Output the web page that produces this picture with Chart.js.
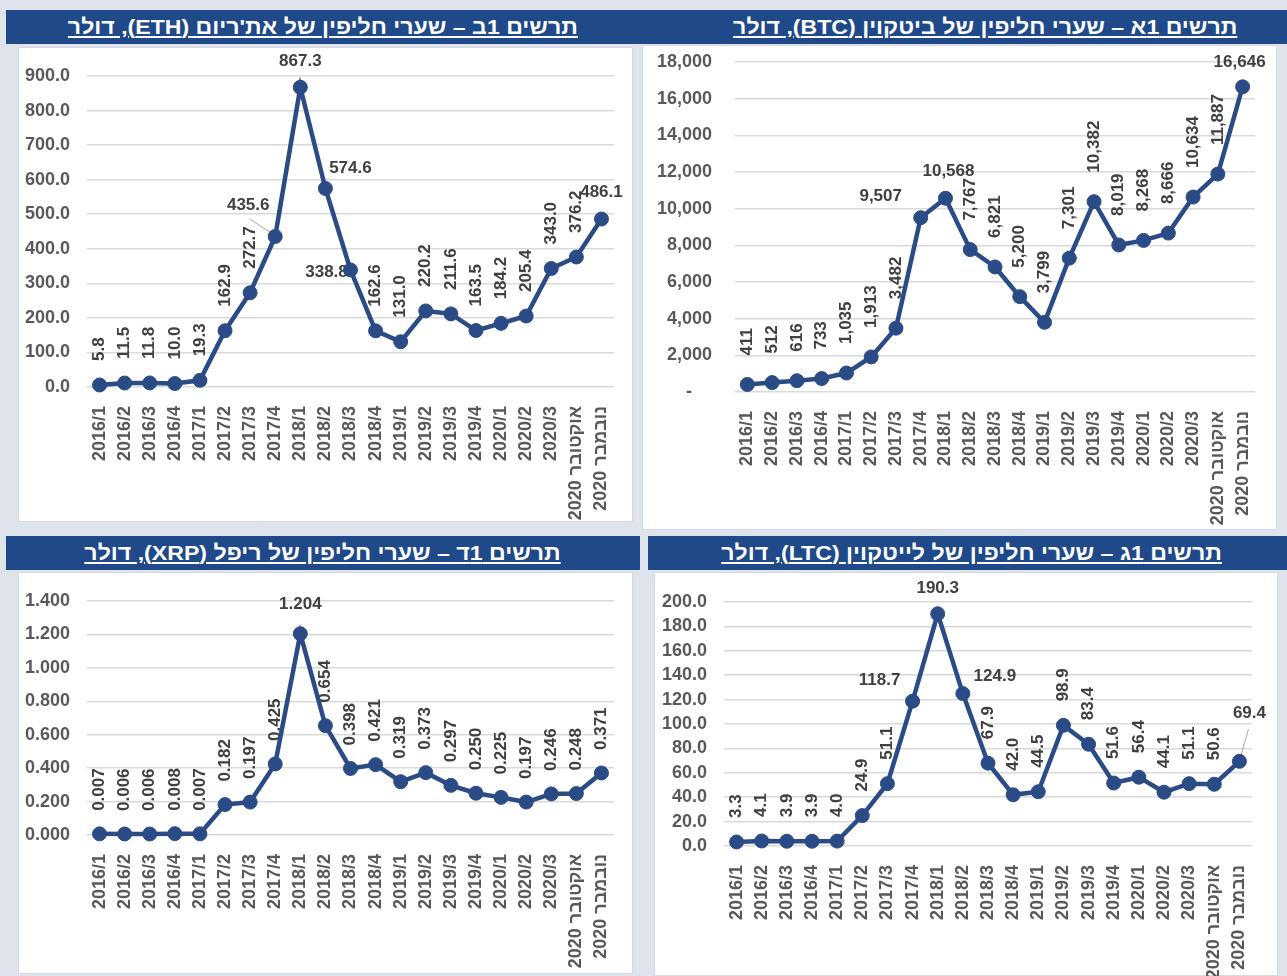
<!DOCTYPE html>
<html lang="he">
<head>
<meta charset="utf-8">
<script src="https://cdn.jsdelivr.net/npm/chart.js@4.4.0/dist/chart.umd.min.js"></script>
<style>
  body { margin: 0; width: 1287px; height: 976px; background: #dfe3ec; position: relative; overflow: hidden;
         font-family: "Liberation Sans", Arial, sans-serif; }
  .bar { position: absolute; height: 34px; background: #1f4989; color: #fff; font-weight: bold; font-size: 21px;
         line-height: 34px; text-align: center; direction: rtl; white-space: nowrap; box-sizing: border-box; }
  .bar span { text-decoration: underline; display: inline-block; transform: scaleX(1.1); }
  .panel { position: absolute; background: #fff; border: 1px solid #d6d9df; box-sizing: border-box; }
  canvas { position: absolute; }
</style>
</head>
<body>

<div class="bar" style="left:6px;top:10px;width:634px;"><span>תרשים 1ב – שערי חליפין של את'ריום (ETH), דולר</span></div>
<div class="bar" style="left:640px;top:10px;width:647px;padding-left:44px;"><span>תרשים 1א – שערי חליפין של ביטקוין (BTC), דולר</span></div>
<div class="bar" style="left:6px;top:536px;width:634px;"><span>תרשים 1ד – שערי חליפין של ריפל (XRP), דולר</span></div>
<div class="bar" style="left:648px;top:536px;width:639px;padding-left:8px;"><span>תרשים 1ג – שערי חליפין של לייטקוין (LTC), דולר</span></div>

<div class="panel" style="left:18px;top:47px;width:615px;height:475px;"></div>
<div class="panel" style="left:642px;top:45px;width:635px;height:485px;"></div>
<div class="panel" style="left:18px;top:572px;width:615px;height:402px;"></div>
<div class="panel" style="left:654px;top:572px;width:624px;height:404px;"></div>

<canvas id="eth" width="615" height="475" style="left:18px;top:47px;"></canvas>
<canvas id="btc" width="635" height="485" style="left:642px;top:45px;"></canvas>
<canvas id="xrp" width="615" height="402" style="left:18px;top:572px;"></canvas>
<canvas id="ltc" width="624" height="404" style="left:654px;top:572px;"></canvas>

<script>
// רבעונים + חודשים אחרונים
const categories = ['2016/1', '2016/2', '2016/3', '2016/4', '2017/1', '2017/2', '2017/3', '2017/4',
  '2018/1', '2018/2', '2018/3', '2018/4', '2019/1', '2019/2', '2019/3', '2019/4',
  '2020/1', '2020/2', '2020/3', 'אוקטובר 2020', 'נובמבר 2020'];

const btcValues = [411, 512, 616, 733, 1035, 1913, 3482, 9507, 10568, 7767, 6821, 5200, 3799,
  7301, 10382, 8019, 8268, 8666, 10634, 11887, 16646];
const ethValues = [5.8, 11.5, 11.8, 10.0, 19.3, 162.9, 272.7, 435.6, 867.3, 574.6, 338.8, 162.6, 131.0,
  220.2, 211.6, 163.5, 184.2, 205.4, 343.0, 376.2, 486.1];
const ltcValues = [3.3, 4.1, 3.9, 3.9, 4.0, 24.9, 51.1, 118.7, 190.3, 124.9, 67.9, 42.0, 44.5,
  98.9, 83.4, 51.6, 56.4, 44.1, 51.1, 50.6, 69.4];
const xrpValues = [0.007, 0.006, 0.006, 0.008, 0.007, 0.182, 0.197, 0.425, 1.204, 0.654, 0.398, 0.421, 0.319,
  0.373, 0.297, 0.250, 0.225, 0.197, 0.246, 0.248, 0.371];

// ערכי ציר Y
const btcTicks = [0, 2000, 4000, 6000, 8000, 10000, 12000, 14000, 16000, 18000];
const ethTicks = [0, 100, 200, 300, 400, 500, 600, 700, 800, 900];
const ltcTicks = [0, 20, 40, 60, 80, 100, 120, 140, 160, 180, 200];
const xrpTicks = [0, 0.2, 0.4, 0.6, 0.8, 1.0, 1.2, 1.4];

const LINE = '#2a4b86';
const FONT = '"Liberation Sans", Arial, sans-serif';

// תוויות נתונים - אנכיות כברירת מחדל, אופקיות לפי אינדקס
const pointLabels = {
  id: 'pointLabels',
  beforeDatasetsDraw(chart, args, opts) {
    const ctx = chart.ctx;
    const meta = chart.getDatasetMeta(0);
    const data = chart.data.datasets[0].data;
    ctx.save();
    ctx.font = 'bold 17px ' + FONT;
    ctx.fillStyle = '#404040';
    meta.data.forEach((pt, i) => {
      const text = opts.format(data[i]);
      const flat = opts.flat[i];
      if (flat) {
        ctx.textAlign = 'center';
        ctx.textBaseline = 'middle';
        ctx.fillText(text, pt.x + flat.dx, pt.y + flat.dy);
        if (flat.lead) {
          ctx.strokeStyle = '#a6a6a6';
          ctx.lineWidth = 1;
          ctx.beginPath();
          ctx.moveTo(pt.x + flat.lead[0], pt.y + flat.lead[1]);
          ctx.lineTo(pt.x + flat.lead[2], pt.y + flat.lead[3]);
          ctx.stroke();
        }
      } else {
        ctx.save();
        ctx.translate(pt.x, pt.y - opts.gap);
        ctx.rotate(-Math.PI / 2);
        ctx.textAlign = 'left';
        ctx.textBaseline = 'middle';
        ctx.fillText(text, 0, 0);
        ctx.restore();
      }
    });
    ctx.restore();
  }
};

function makeChart(id, values, yTicks, tickFmt, labelFmt, geo, flat, gap) {
  return new Chart(document.getElementById(id), {
    type: 'line',
    data: {
      labels: categories,
      datasets: [{
        data: values,
        borderColor: LINE,
        backgroundColor: LINE,
        borderWidth: 4.5,
        pointRadius: 7,
        pointBorderWidth: 1,
        pointBackgroundColor: LINE,
        tension: 0,
        clip: false
      }]
    },
    options: {
      responsive: false,
      animation: false,
      layout: { padding: { left: 0, top: geo.top, right: geo.right, bottom: 0 } },
      plugins: {
        legend: { display: false },
        tooltip: { enabled: false },
        pointLabels: { format: labelFmt, flat: flat, gap: gap }
      },
      scales: {
        x: {
          offset: true,
          grid: { display: false },
          border: { display: false },
          ticks: {
            autoSkip: false, maxRotation: 90, minRotation: 90, padding: 11,
            color: '#595959', font: { family: FONT, size: 18, weight: 'bold' }
          },
          afterFit(scale) {
            scale.height = geo.xHeight;
            scale.paddingLeft = 0;
            scale.paddingRight = 0;
          }
        },
        y: {
          min: yTicks[0],
          max: yTicks[yTicks.length - 1],
          grid: { color: '#d9d9d9', lineWidth: 1.5, drawTicks: false },
          border: { display: false },
          ticks: {
            autoSkip: false,
            padding: geo.tickPad, color: '#595959',
            font: { family: FONT, size: 18, weight: 'bold' },
            callback: v => tickFmt(v)
          },
          afterBuildTicks(scale) { scale.ticks = yTicks.map(v => ({ value: v })); },
          afterFit(scale) {
            scale.width = geo.yWidth;
            scale.paddingTop = 0;
            scale.paddingBottom = 0;
          }
        }
      }
    },
    plugins: [pointLabels]
  });
}

const fmt1 = v => v.toFixed(1);
const fmt3 = v => v.toFixed(3);
const fmtK = v => Math.round(v).toLocaleString('en-US');

makeChart('eth', ethValues, ethTicks, fmt1, fmt1,
  { yWidth: 69, right: 19, top: 29, xHeight: 135, tickPad: 17 },
  {
    7: { dx: -27, dy: -31, lead: [-25, -17, -3, -3] },
    8: { dx: 0, dy: -26 },
    9: { dx: 25, dy: -20 },
    10: { dx: -24, dy: 2 },
    20: { dx: 0, dy: -27 }
  }, 24);

makeChart('btc', btcValues, btcTicks, v => v === 0 ? '-    ' : fmtK(v), fmtK,
  { yWidth: 93, right: 22, top: 17, xHeight: 138, tickPad: 23 },
  {
    7: { dx: -40, dy: -21 },
    8: { dx: 3, dy: -27 },
    20: { dx: -3, dy: -25 }
  }, 29);

makeChart('xrp', xrpValues, xrpTicks, fmt3, fmt3,
  { yWidth: 69, right: 19, top: 29, xHeight: 139, tickPad: 17 },
  { 8: { dx: 0, dy: -29 } }, 23);

makeChart('ltc', ltcValues, ltcTicks, fmt1, fmt1,
  { yWidth: 70, right: 26, top: 30, xHeight: 130, tickPad: 17 },
  {
    7: { dx: -33, dy: -21 },
    8: { dx: 0, dy: -26 },
    9: { dx: 32, dy: -17 },
    20: { dx: 10, dy: -48, lead: [9, -32, 1, -4] }
  }, 24);
</script>
</body>
</html>
